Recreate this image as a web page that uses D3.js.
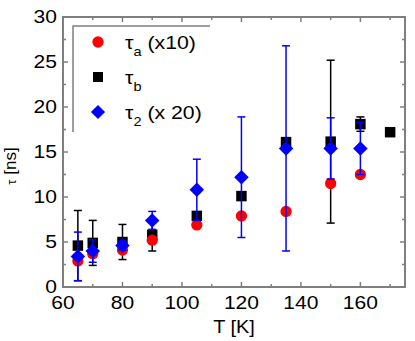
<!DOCTYPE html>
<html lang="en">
<head>
  <meta charset="UTF-8">
  <title>tau vs T</title>
  <script src="https://cdn.jsdelivr.net/npm/d3@7"></script>
</head>
<body>
<style>
  * { padding: 0; margin: 0; }
  body { background: #fff; }
  svg { display: block; font-family: Arial, "Liberation Sans", sans-serif; }
</style>
<div id="app"></div>
<script>
  // temperatures (K) and series
  let tA = [65, 70, 80, 90, 105, 120, 135, 150, 160];
  let tauA = [2.9, 3.7, 4.1, 5.2, 6.9, 7.9, 8.4, 11.5, 12.5];
  let tauAErr = [0.3, 0.4, 0.3, 0.3, 0, 0, 0, 0, 0.3];

  let tB = [65, 70, 80, 90, 105, 120, 135, 150, 160, 170];
  let tauB = [4.6, 4.9, 5.0, 5.8, 7.9, 10.1, 16.1, 16.15, 18.1, 17.2];
  let tauBErr = [3.9, 2.5, 1.95, 1.8, 0, 0, 0, 9.05, 0.8, 0];

  let t2 = [65, 70, 80, 90, 105, 120, 135, 150, 160];
  let tau2 = [3.4, 4.0, 4.6, 7.4, 10.8, 12.2, 15.4, 15.4, 15.4];
  let tau2Err = [2.7, 1.25, 0.5, 1.0, 3.4, 6.7, 11.4, 3.4, 2.9];

  let xTicks = [60, 80, 100, 120, 140, 160];
  let yTicks = [0, 5, 10, 15, 20, 25, 30];

  let $width = 415, $height = 341;
  let m = {left: 63, right: 405, top: 17, bottom: 287};

  let x = d3.scaleLinear().domain([60, 175]).range([m.left, m.right]);
  let y = d3.scaleLinear().domain([0, 30]).range([m.bottom, m.top]);

  let svg = d3.select("#app").append("svg").attr("width", $width).attr("height", $height);

  let axisColor = "#7f7f7f";
  let sx = 1.17; // labels in the original are a bit wider than Arial

  // frame
  svg.append("rect").attr("x", m.left).attr("y", m.top)
    .attr("width", m.right - m.left).attr("height", m.bottom - m.top)
    .attr("fill", "none").attr("stroke", axisColor).attr("stroke-width", 2);

  // ticks, pointing inward on all four sides
  let xMinor = d3.range(70, 175, 20);
  let yMinor = d3.range(2.5, 30, 5);
  function tickX(vals, len) {
    svg.append("g").selectAll("line").data(vals).enter().append("line")
      .attr("x1", d => x(d)).attr("x2", d => x(d)).attr("y1", m.bottom).attr("y2", m.bottom - len)
      .attr("stroke", axisColor).attr("stroke-width", 1.5);
    svg.append("g").selectAll("line").data(vals).enter().append("line")
      .attr("x1", d => x(d)).attr("x2", d => x(d)).attr("y1", m.top).attr("y2", m.top + len)
      .attr("stroke", axisColor).attr("stroke-width", 1.5);
  }
  function tickY(vals, len) {
    svg.append("g").selectAll("line").data(vals).enter().append("line")
      .attr("y1", d => y(d)).attr("y2", d => y(d)).attr("x1", m.left).attr("x2", m.left + len)
      .attr("stroke", axisColor).attr("stroke-width", 1.5);
    svg.append("g").selectAll("line").data(vals).enter().append("line")
      .attr("y1", d => y(d)).attr("y2", d => y(d)).attr("x1", m.right).attr("x2", m.right - len)
      .attr("stroke", axisColor).attr("stroke-width", 1.5);
  }
  tickX(xTicks.slice(1), 5);
  tickX(xMinor, 3);
  tickY(yTicks.slice(1, 6), 5);
  tickY(yMinor, 3);

  // tick labels
  svg.append("g").selectAll("text").data(xTicks).enter().append("text")
    .text(d => d).attr("transform", d => "translate(" + x(d) + ",309) scale(" + sx + ",1)")
    .attr("text-anchor", "middle").attr("font-size", "18px").attr("fill", "#000");
  svg.append("g").selectAll("text").data(yTicks).enter().append("text")
    .text(d => d).attr("transform", d => "translate(57," + (y(d) + 6) + ") scale(" + sx + ",1)")
    .attr("text-anchor", "end").attr("font-size", "18px").attr("fill", "#000");

  // axis titles
  svg.append("text").text("T [K]").attr("transform", "translate(234,333) scale(1.05,1)")
    .attr("text-anchor", "middle").attr("font-size", "19px");
  let yl = svg.append("text").attr("transform", "translate(16,166) rotate(-90)")
    .attr("text-anchor", "middle").attr("font-size", "17px");
  yl.append("tspan").text("τ").attr("font-size", "13px");
  yl.append("tspan").text(" [ns]");

  // error bars
  function errBars(xs, vs, es, color) {
    let d = xs.map((t, i) => ({t: t, v: vs[i], e: es[i]})).filter(p => p.e > 0);
    let g = svg.append("g").attr("stroke", color).attr("stroke-width", 1.5);
    g.selectAll(".v").data(d).enter().append("line")
      .attr("x1", p => x(p.t)).attr("x2", p => x(p.t))
      .attr("y1", p => y(p.v - p.e)).attr("y2", p => y(p.v + p.e));
    g.selectAll(".c1").data(d).enter().append("line")
      .attr("x1", p => x(p.t) - 4).attr("x2", p => x(p.t) + 4)
      .attr("y1", p => y(p.v + p.e)).attr("y2", p => y(p.v + p.e));
    g.selectAll(".c2").data(d).enter().append("line")
      .attr("x1", p => x(p.t) - 4).attr("x2", p => x(p.t) + 4)
      .attr("y1", p => y(p.v - p.e)).attr("y2", p => y(p.v - p.e));
  }

  function symbols(xs, vs, type, size, color, rot) {
    svg.append("g").selectAll("path").data(xs).enter().append("path")
      .attr("d", d3.symbol().type(type).size(size))
      .attr("transform", (d, i) => "translate(" + x(d) + "," + y(vs[i]) + ")" + (rot ? " rotate(45)" : ""))
      .attr("fill", color);
  }

  errBars(tB, tauB, tauBErr, "#000");
  symbols(tB, tauB, d3.symbolSquare, 110, "#000", false);
  errBars(tA, tauA, tauAErr, "#ff0000");
  symbols(tA, tauA, d3.symbolCircle, 100, "#ff0000", false);
  errBars(t2, tau2, tau2Err, "#0000ff");
  symbols(t2, tau2, d3.symbolSquare, 105, "#0000ff", true);

  // legend
  let lg = svg.append("g");
  lg.append("path").attr("d", "M73,132 V26 H210").attr("fill", "none")
    .attr("stroke", axisColor).attr("stroke-width", 1.5);
  let items = [
    {type: d3.symbolCircle, size: 100, color: "#ff0000", rot: false, sub: "a", rest: " (x10)", yy: 42},
    {type: d3.symbolSquare, size: 100, color: "#000", rot: false, sub: "b", rest: "", yy: 77},
    {type: d3.symbolSquare, size: 100, color: "#0000ff", rot: true, sub: "2", rest: " (x 20)", yy: 112}
  ];
  items.forEach(it => {
    lg.append("path").attr("d", d3.symbol().type(it.type).size(it.size))
      .attr("transform", "translate(98," + it.yy + ")" + (it.rot ? " rotate(45)" : ""))
      .attr("fill", it.color);
    let t = lg.append("text").attr("transform", "translate(125," + (it.yy + 7) + ") scale(1.12,1)")
      .attr("font-size", "19px");
    t.append("tspan").text("τ");
    t.append("tspan").text(it.sub).attr("font-size", "13px").attr("dy", 7);
    t.append("tspan").text(it.rest).attr("dy", -7);
  });
</script>
</body>
</html>
